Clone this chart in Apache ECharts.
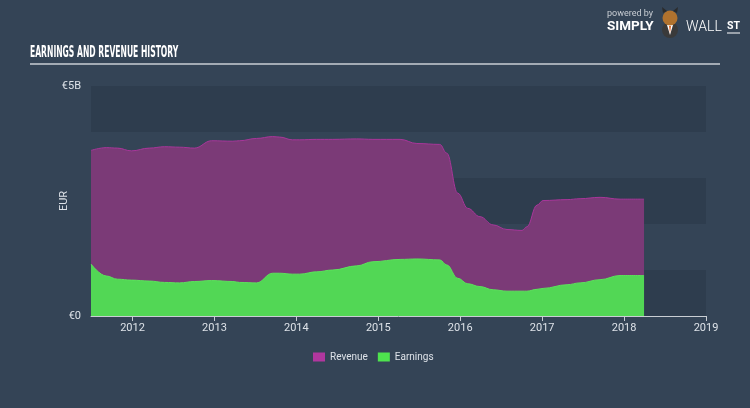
<!DOCTYPE html>
<html>
<head>
<meta charset="utf-8">
<script src="https://cdn.jsdelivr.net/npm/echarts@6/dist/echarts.min.js"></script>
<style>
html,body{margin:0;padding:0;background:#344456;}
#c{width:750px;height:408px;}
</style>
</head>
<body>
<div id="c"></div>
<script>
const dates = ['2011-06-30','2011-09-06','2011-10-26','2011-12-27','2012-03-16','2012-05-23','2012-07-29','2012-10-04','2012-12-19','2013-03-24','2013-04-23','2013-07-08','2013-09-17','2013-10-18','2013-12-15','2014-01-16','2014-04-01','2014-06-12','2014-09-27','2014-12-08','2015-04-08','2015-06-22','2015-10-02','2015-11-02','2015-12-21','2016-02-04','2016-03-29','2016-05-27','2016-07-28','2016-10-03','2016-10-25','2016-12-09','2017-01-05','2017-04-22','2017-06-19','2017-09-16','2017-12-14','2018-03-31'];
const revenue = [3.60,3.66,3.65,3.59,3.65,3.68,3.67,3.65,3.81,3.80,3.81,3.86,3.90,3.89,3.83,3.83,3.84,3.84,3.85,3.84,3.84,3.75,3.73,3.54,2.67,2.34,2.16,1.98,1.88,1.86,1.94,2.41,2.51,2.53,2.55,2.58,2.54,2.54];
const earnings = [1.13,0.87,0.80,0.78,0.76,0.73,0.72,0.75,0.77,0.75,0.73,0.72,0.93,0.93,0.91,0.91,0.96,1.00,1.09,1.18,1.23,1.24,1.22,1.11,0.82,0.70,0.64,0.57,0.54,0.54,0.54,0.58,0.60,0.68,0.72,0.79,0.88,0.88];
const yearTicks = [2012,2013,2014,2015,2016,2017,2018,2019];
const xStart = '2011-06-30';
const yMax = 5; // billions

// date string -> fractional year
const toYear = s => {
  const p = s.split('-').map(Number);
  const t0 = Date.UTC(p[0],0,1), t1 = Date.UTC(p[0]+1,0,1);
  return p[0] + (Date.UTC(p[0],p[1]-1,p[2]) - t0) / (t1 - t0);
};

const chart = echarts.init(document.getElementById('c'), null, {renderer:'canvas'});
const labelFont = 'Roboto';
chart.setOption({
  backgroundColor: '#344456',
  animation: false,
  grid: {left: 91, right: 44, top: 86, bottom: 92},
  legend: {
    data: ['Revenue','Earnings'],
    left: 308, top: 347,
    itemWidth: 12, itemHeight: 9, itemGap: 10,
    icon: 'rect',
    textStyle: {color: '#dde2e8', fontSize: 10, fontFamily: labelFont}
  },
  xAxis: {
    type: 'value',
    min: toYear(xStart),
    max: yearTicks[yearTicks.length-1],
    axisLine: {show: true, onZero: false, lineStyle: {color: '#c9ced4', width: 1}},
    axisTick: {show: true, customValues: yearTicks, length: 5, lineStyle: {color: '#c9ced4'}},
    axisLabel: {customValues: yearTicks, color: '#dde2e8', fontSize: 11, fontFamily: labelFont, margin: 7,
      formatter: v => String(Math.round(v))},
    splitLine: {show: false}
  },
  yAxis: {
    type: 'value',
    min: 0, max: yMax, interval: 1,
    name: 'EUR', nameLocation: 'middle', nameGap: 21, nameRotate: 90, nameMoveOverlap: false,
    nameTextStyle: {color: '#dde2e8', fontSize: 11, fontFamily: labelFont},
    axisLine: {show: false}, axisTick: {show: false},
    axisLabel: {color: '#dde2e8', fontSize: 11, fontFamily: labelFont, margin: 10,
      formatter: v => v === 0 ? '€0' : (v === yMax ? '€' + yMax + 'B' : '')},
    splitLine: {show: false},
    splitArea: {show: true, areaStyle: {color: ['#2e3d4e', '#344456']}}
  },
  series: [
    {
      name: 'Revenue', type: 'line', smooth: 0.4, smoothMonotone: 'x', symbol: 'none',
      data: dates.map((d,i) => [toYear(d), revenue[i]]),
      itemStyle: {color: '#b0379e'},
      lineStyle: {color: '#a8369a', width: 1},
      areaStyle: {color: '#7b3a77', opacity: 1},
      z: 2
    },
    {
      name: 'Earnings', type: 'line', smooth: 0.4, smoothMonotone: 'x', symbol: 'none',
      data: dates.map((d,i) => [toYear(d), earnings[i]]),
      itemStyle: {color: '#4ee34e'},
      lineStyle: {color: '#5be35b', width: 1},
      areaStyle: {color: '#52d755', opacity: 1},
      z: 3
    }
  ],
  graphic: [
    {type: 'text', x: 30, y: 45, scaleX: 0.53,
      style: {text: 'EARNINGS AND REVENUE HISTORY', fill: '#ffffff', font: 'bold 16px "DejaVu Sans Condensed"'}},
    {type: 'line', shape: {x1: 30, y1: 64, x2: 720, y2: 64}, style: {stroke: '#c9ced4', lineWidth: 1.5}},
    {type: 'text', left: 607, top: 9, style: {text: 'powered by', fill: '#c9ced4', font: '9px Roboto'}},
    {type: 'text', left: 607, top: 20, style: {text: 'SIMPLY', fill: '#ffffff', font: 'bold 13.5px Roboto'}},
    {type: 'circle', shape: {cx: 670, cy: 30, r: 8}, style: {fill: '#3a3a3a'}},
    {type: 'polygon', shape: {points: [[667,25],[673,25],[670,35]]}, style: {fill: '#ffffff'}},
    {type: 'polygon', shape: {points: [[669,26],[671,26],[670,33]]}, style: {fill: '#e0601e'}},
    {type: 'circle', shape: {cx: 670, cy: 18, r: 7.5}, style: {fill: '#b0722e'}},
    {type: 'polygon', shape: {points: [[663,13],[662,7],[667,11]]}, style: {fill: '#2b2b2b'}},
    {type: 'polygon', shape: {points: [[677,13],[678,7],[673,11]]}, style: {fill: '#2b2b2b'}},
    {type: 'text', left: 686, top: 20, style: {text: 'WALL', fill: '#ffffff', font: '300 14px Roboto'}},
    {type: 'text', left: 727, top: 21, style: {text: 'ST', fill: '#ffffff', font: 'bold 10.5px Roboto'}},
    {type: 'line', shape: {x1: 727, y1: 33, x2: 740, y2: 33}, style: {stroke: '#ffffff', lineWidth: 1}}
  ]
});
</script>
</body>
</html>
